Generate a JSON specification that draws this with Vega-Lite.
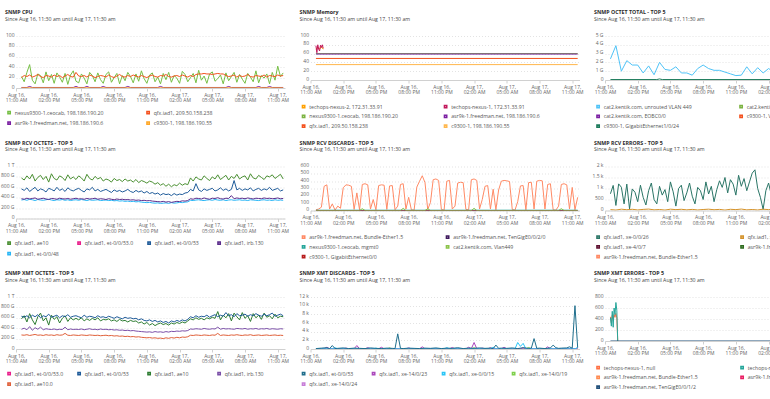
{
"$schema": "https://vega.github.io/schema/vega-lite/v6.json",
"background": "white",
"padding": {"left": 0, "top": 10, "right": 0, "bottom": 0},
"bounds": "flush",
"spacing": 130.5,
"resolve": {"scale": {"color": "independent", "x": "independent", "y": "independent"}, "legend": {"color": "independent"}},
"datasets": {
"names": [
{"k":"a","n":"nexus9300-1.ceocab, 198.186.190.20"},{"k":"b","n":"qfx.iad1, 209.50.158.238"},{"k":"p3","n":"asr9k-1.freedman.net, 198.186.190.6"},{"k":"p4","n":"c9300-1, 198.186.190.55"},
{"k":"m1","n":"techops-nexus-1, 172.31.33.91"},{"k":"m2","n":"techops-nexus-2, 172.31.33.91"},{"k":"m3","n":"nexus9300-1.ceocab, 198.186.190.20"},{"k":"m4","n":"asr9k-1.freedman.net, 198.186.190.6"},{"k":"m5","n":"qfx.iad1, 209.50.158.238"},{"k":"m6","n":"c9300-1, 198.186.190.55"},
{"k":"c","n":"cat2.kentik.com, unrouted VLAN 449"},{"k":"c2","n":"c9300-1, GigabitEthernet1/0/24"},
{"k":"d","n":"qfx.iad1, ae10"},{"k":"e","n":"qfx.iad1, et-0/0/53"},{"k":"f","n":"qfx.iad1, irb.130"},{"k":"g","n":"qfx.iad1, et-0/0/48"},
{"k":"h","n":"asr9k-1.freedman.net, Bundle-Ether1.5"},{"k":"r2","n":"asr9k-1.freedman.net, TenGigE0/0/2/0"},{"k":"r3","n":"nexus9300-1.ceocab, mgmt0"},{"k":"r4","n":"cat2.kentik.com, Vlan449"},{"k":"r5","n":"c9300-1, GigabitEthernet0/0"},
{"k":"k","n":"qfx.iad1, xe-0/0/26"},{"k":"j","n":"qfx.iad1, xe-0/0/27"},
{"k":"n","n":"qfx.iad1, et-0/0/53"},{"k":"o","n":"qfx.iad1, ae10"},{"k":"p","n":"qfx.iad1, irb.130"},{"k":"q","n":"qfx.iad1, ae10.0"},
{"k":"r","n":"qfx.iad1, et-0/0/53"},{"k":"s","n":"qfx.iad1, xe-14/0/23"},{"k":"u","n":"qfx.iad1, xe-0/0/15"},{"k":"v","n":"qfx.iad1, xe-14/0/19"},{"k":"w","n":"qfx.iad1, xe-14/0/24"},
{"k":"e1","n":"techops-nexus-1, null"},{"k":"e2","n":"techops-nexus-2, null"},{"k":"e5","n":"asr9k-1.freedman.net, TenGigE0/0/1/2"}
],
"d": [
{"t":"2023-08-16T11:30","m1":78,"m2":70,"e1":440,"e2":420},
{"t":"2023-08-16T11:35","m1":62,"e1":330,"e2":270},
{"t":"2023-08-16T11:40","m1":80,"m2":75,"e1":470,"e2":540},
{"t":"2023-08-16T11:45","m1":70,"e1":400,"e2":250},
{"t":"2023-08-16T11:50","m1":66,"m2":70,"e1":480,"e2":600},
{"t":"2023-08-16T11:55","m1":79,"e1":430,"e2":480},
{"t":"2023-08-16T12:00","m1":74,"m2":76,"e1":500,"e2":700},
{"t":"2023-08-16T12:05","m1":80,"e1":420,"e2":560},
{"t":"2023-08-16T12:10","m1":72,"m2":70,"e1":0,"e2":0},
{"t":"2023-08-16T11:30","a":22,"b":20,"c":2.4,"d":780,"e":570,"f":380,"g":355,"h":10,"k":760,"j":40,"n":630,"o":580,"p":380,"q":270,"r":100,"s":50,"u":30,"v":20,"w":30,"p3":1,"p4":0.3,"c2":0.05,"m3":60,"m4":59,"m5":49,"m6":35,"r2":0,"r3":4,"r4":0,"r5":0,"e5":0},
{"t":"2023-08-16T11:45","a":12,"b":24,"d":740,"e":540,"f":370,"g":365,"h":20,"k":1140,"n":610,"o":640,"p":400,"q":265},
{"t":"2023-08-16T12:00","a":30,"b":22,"c":3.9,"d":820,"e":590,"f":390,"g":350,"h":45,"k":230,"j":20,"n":640,"o":520,"p":370,"q":275,"r":200,"p3":1},
{"t":"2023-08-16T12:15","a":45,"b":25,"d":760,"e":520,"f":375,"g":370,"h":330,"k":1210,"n":600,"o":680,"p":430,"q":260,"s":50,"p3":3},
{"t":"2023-08-16T12:30","a":15,"b":21,"c":1.0,"d":850,"e":560,"f":385,"g":360,"h":350,"k":1060,"j":60,"n":650,"o":560,"p":360,"q":270,"r":300,"s":400,"p3":1},
{"t":"2023-08-16T12:45","a":8,"b":23,"d":720,"e":600,"f":395,"g":345,"h":20,"k":300,"n":620,"o":470,"p":410,"q":280,"r":80,"s":50},
{"t":"2023-08-16T13:00","a":27,"b":26,"c":2.2,"d":790,"e":530,"f":370,"g":365,"h":90,"k":1200,"j":35,"n":660,"o":620,"p":380,"q":265,"r":800,"u":30},
{"t":"2023-08-16T13:15","a":24,"b":22,"d":830,"e":570,"f":380,"g":355,"h":5,"k":75,"n":600,"o":690,"p":420,"q":270,"r":100,"u":300},
{"t":"2023-08-16T13:30","a":10,"b":20,"c":1.7,"d":750,"e":550,"f":390,"g":350,"h":60,"k":980,"j":55,"n":640,"o":540,"p":370,"q":260,"r":150,"u":30},
{"t":"2023-08-16T13:45","a":31,"b":24,"d":810,"e":510,"f":375,"g":360,"h":30,"k":830,"n":620,"o":600,"p":390,"q":275},
{"t":"2023-08-16T14:00","a":14,"b":23,"c":1.7,"d":700,"e":580,"f":365,"g":370,"h":310,"k":400,"j":25,"n":670,"o":460,"p":380,"q":265,"r":250,"w":30},
{"t":"2023-08-16T14:15","a":26,"b":21,"d":860,"e":560,"f":385,"g":355,"h":350,"k":1150,"n":610,"o":650,"p":375,"q":270,"w":250},
{"t":"2023-08-16T14:30","a":9,"b":25,"c":0.8,"d":770,"e":530,"f":380,"g":345,"h":345,"k":600,"j":50,"n":630,"o":570,"p":385,"q":260,"r":100,"w":30},
{"t":"2023-08-16T14:45","a":29,"b":22,"d":740,"e":600,"f":370,"g":360,"h":330,"k":250,"n":650,"o":620,"p":370,"q":275},
{"t":"2023-08-16T15:00","a":21,"b":24,"c":1.6,"d":820,"e":540,"f":390,"g":355,"h":15,"k":900,"j":65,"n":600,"o":500,"p":380,"q":265,"r":200,"s":50},
{"t":"2023-08-16T15:15","a":11,"b":20,"d":790,"e":570,"f":380,"g":365,"h":240,"k":1250,"n":640,"o":590,"p":375,"q":270,"s":800},
{"t":"2023-08-16T15:30","a":28,"b":23,"c":0.6,"d":730,"e":520,"f":375,"g":350,"h":10,"k":500,"j":30,"n":620,"o":640,"p":420,"q":300,"r":150,"s":50,"r4":0},
{"t":"2023-08-16T15:45","a":7,"b":26,"d":840,"e":590,"f":385,"g":360,"h":355,"k":300,"n":660,"o":530,"p":370,"q":265,"r4":25,"c2":0.05},
{"t":"2023-08-16T16:00","a":25,"b":22,"c":2.0,"d":760,"e":550,"f":370,"g":345,"h":365,"k":1100,"j":45,"n":610,"o":600,"p":385,"q":260,"r":100,"s":50,"r4":0,"c2":0.12},
{"t":"2023-08-16T16:15","a":33,"b":21,"d":800,"e":530,"f":380,"g":355,"h":350,"k":700,"n":630,"o":560,"p":375,"q":270,"s":300,"p3":1,"c2":0.05},
{"t":"2023-08-16T16:30","a":13,"b":30,"c":1.2,"d":750,"e":560,"f":390,"g":360,"h":20,"k":950,"j":20,"n":640,"o":590,"p":380,"q":265,"r":250,"s":50,"p3":3},
{"t":"2023-08-16T16:45","a":10,"b":23,"d":820,"e":580,"f":375,"g":350,"h":150,"k":400,"n":620,"o":560,"p":375,"q":260,"u":30,"p3":1},
{"t":"2023-08-16T17:00","a":27,"b":22,"c":1.1,"d":780,"e":540,"f":380,"g":365,"h":10,"k":1300,"j":60,"n":600,"o":600,"p":385,"q":270,"r":150,"u":200},
{"t":"2023-08-16T17:15","a":19,"b":24,"d":720,"e":510,"f":370,"g":355,"h":340,"k":850,"n":650,"o":540,"p":370,"q":265,"s":50,"u":30,"p3":1},
{"t":"2023-08-16T17:30","a":8,"b":21,"c":1.5,"d":850,"e":570,"f":385,"g":345,"h":350,"k":200,"j":40,"n":610,"o":580,"p":380,"q":260,"r":100,"s":400,"p3":3},
{"t":"2023-08-16T17:45","a":30,"b":25,"d":770,"e":550,"f":375,"g":360,"h":345,"k":1000,"n":630,"o":550,"p":390,"q":270,"s":50,"p3":1},
{"t":"2023-08-16T18:00","a":24,"b":23,"c":0.8,"d":740,"e":600,"f":380,"g":350,"h":15,"k":1150,"j":55,"n":620,"o":590,"p":375,"q":265,"r":200,"v":20},
{"t":"2023-08-16T18:15","a":12,"b":20,"d":810,"e":530,"f":390,"g":355,"h":335,"k":450,"n":600,"o":560,"p":380,"q":260,"v":250},
{"t":"2023-08-16T18:30","a":29,"b":22,"c":0.8,"d":760,"e":560,"f":370,"g":360,"h":340,"k":800,"j":30,"n":640,"o":600,"p":370,"q":265,"r":150,"v":20},
{"t":"2023-08-16T18:45","a":16,"b":24,"d":790,"e":520,"f":380,"g":345,"h":10,"k":1250,"n":610,"o":540,"p":385,"q":255,"r":100,"p3":1},
{"t":"2023-08-16T19:00","a":9,"b":23,"c":0.55,"d":720,"e":540,"f":375,"g":350,"h":60,"k":650,"j":50,"n":620,"o":570,"p":375,"q":260,"r":3500,"p3":3},
{"t":"2023-08-16T19:15","a":26,"b":21,"d":760,"e":560,"f":365,"g":355,"h":355,"k":300,"n":600,"o":560,"p":380,"q":265,"r":150,"p3":1,"r4":0},
{"t":"2023-08-16T19:30","a":31,"b":25,"c":1.3,"d":740,"e":530,"f":380,"g":345,"h":365,"k":1050,"j":25,"n":630,"o":580,"p":370,"q":255,"r":100,"r4":30},
{"t":"2023-08-16T19:45","a":11,"b":22,"d":700,"e":500,"f":370,"g":350,"h":20,"k":900,"n":610,"o":540,"p":375,"q":260,"w":30,"r4":0},
{"t":"2023-08-16T20:00","a":20,"b":20,"c":1.7,"d":770,"e":550,"f":360,"g":340,"h":180,"k":500,"j":45,"n":590,"o":560,"p":365,"q":250,"r":200,"w":300},
{"t":"2023-08-16T20:15","a":28,"b":23,"d":730,"e":520,"f":375,"g":345,"h":10,"k":1300,"n":620,"o":530,"p":370,"q":255,"w":30},
{"t":"2023-08-16T20:30","a":8,"b":26,"c":1.3,"d":750,"e":540,"f":365,"g":335,"h":5,"k":750,"j":60,"n":600,"o":570,"p":360,"q":245,"r":150},
{"t":"2023-08-16T20:45","a":24,"b":22,"d":710,"e":510,"f":370,"g":340,"h":320,"k":1100,"n":580,"o":540,"p":365,"q":250},
{"t":"2023-08-16T21:00","a":14,"b":21,"c":1.1,"d":760,"e":530,"f":360,"g":330,"h":400,"k":400,"j":35,"n":610,"o":550,"p":355,"q":240,"r":100,"s":50,"p3":1},
{"t":"2023-08-16T21:15","a":30,"b":24,"d":720,"e":560,"f":365,"g":335,"h":474,"k":950,"n":590,"o":520,"p":360,"q":245,"s":500,"p3":3},
{"t":"2023-08-16T21:30","a":22,"b":22,"c":1.1,"d":740,"e":520,"f":355,"g":325,"h":380,"k":1350,"j":50,"n":600,"o":550,"p":350,"q":235,"r":200,"s":50,"p3":1,"r4":0},
{"t":"2023-08-16T21:45","a":10,"b":25,"d":700,"e":500,"f":360,"g":330,"h":15,"k":1050,"n":580,"o":530,"p":355,"q":240,"r4":25},
{"t":"2023-08-16T22:00","a":27,"b":23,"c":0.9,"d":750,"e":540,"f":350,"g":320,"h":110,"k":1500,"j":20,"n":590,"o":540,"p":345,"q":230,"r":150,"r4":0},
{"t":"2023-08-16T22:15","a":13,"b":21,"d":690,"e":510,"f":355,"g":325,"h":420,"k":800,"n":560,"o":500,"p":340,"q":235},
{"t":"2023-08-16T22:30","a":33,"b":24,"c":0.7,"d":730,"e":530,"f":345,"g":315,"h":430,"k":1400,"j":55,"n":580,"o":520,"p":335,"q":225,"r":250},
{"t":"2023-08-16T22:45","a":18,"b":22,"d":710,"e":490,"f":350,"g":310,"h":410,"k":1200,"n":550,"o":480,"p":330,"q":220},
{"t":"2023-08-16T23:00","a":9,"b":20,"c":0.5,"d":680,"e":520,"f":340,"g":305,"h":15,"k":700,"j":40,"n":540,"o":510,"p":325,"q":215,"r":100},
{"t":"2023-08-16T23:15","a":25,"b":23,"d":720,"e":480,"f":345,"g":310,"h":5,"k":1600,"n":560,"o":460,"p":330,"q":220,"u":30},
{"t":"2023-08-16T23:30","a":29,"b":25,"c":0.55,"d":700,"e":500,"f":335,"g":300,"h":400,"k":1100,"j":65,"n":530,"o":490,"p":320,"q":210,"r":200,"u":300},
{"t":"2023-08-16T23:45","a":12,"b":22,"d":660,"e":470,"f":330,"g":295,"h":410,"k":1450,"n":550,"o":450,"p":335,"q":215,"s":50,"u":30},
{"t":"2023-08-17T00:00","a":21,"b":21,"c":1.5,"d":690,"e":490,"f":325,"g":300,"h":20,"k":900,"j":30,"n":520,"o":480,"p":325,"q":205,"r":150,"s":350,"p3":1},
{"t":"2023-08-17T00:15","a":8,"b":24,"d":640,"e":450,"f":320,"g":290,"h":60,"k":1300,"n":540,"o":500,"p":330,"q":210,"s":50,"p3":3},
{"t":"2023-08-17T00:30","a":28,"b":23,"c":0.7,"d":670,"e":480,"f":330,"g":295,"h":375,"k":1700,"j":45,"n":510,"o":470,"p":320,"q":200,"r":300,"p3":1},
{"t":"2023-08-17T00:45","a":16,"b":26,"d":620,"e":460,"f":315,"g":300,"h":385,"k":1850,"n":530,"o":490,"p":335,"q":215},
{"t":"2023-08-17T01:00","a":30,"b":22,"c":1.4,"d":660,"e":470,"f":325,"g":290,"h":380,"k":1000,"j":25,"n":500,"o":460,"p":325,"q":205,"r":100},
{"t":"2023-08-17T01:15","a":11,"b":21,"d":610,"e":440,"f":310,"g":305,"h":15,"k":600,"n":540,"o":500,"p":340,"q":220,"s":50},
{"t":"2023-08-17T01:30","a":24,"b":23,"c":0.8,"d":650,"e":480,"f":320,"g":295,"h":10,"k":50,"j":60,"n":520,"o":480,"p":335,"q":210,"r":200,"s":400},
{"t":"2023-08-17T01:45","a":19,"b":24,"d":630,"e":450,"f":330,"g":300,"h":420,"k":900,"n":550,"o":510,"p":345,"q":225,"s":80,"v":20,"r4":0},
{"t":"2023-08-17T02:00","a":9,"b":22,"c":1.3,"d":680,"e":470,"f":325,"g":310,"h":430,"k":1250,"j":40,"n":530,"o":490,"p":340,"q":215,"r":150,"s":1500,"v":300,"r4":30},
{"t":"2023-08-17T02:15","a":32,"b":25,"d":640,"e":460,"f":340,"g":305,"h":410,"k":700,"n":560,"o":520,"p":350,"q":230,"s":50,"v":20,"r4":0},
{"t":"2023-08-17T02:30","a":26,"b":23,"c":0.9,"d":670,"e":490,"f":335,"g":315,"h":20,"k":1100,"j":50,"n":540,"o":500,"p":345,"q":225,"r":250,"w":30},
{"t":"2023-08-17T02:45","a":12,"b":21,"d":650,"e":500,"f":345,"g":320,"h":150,"k":500,"n":570,"o":540,"p":355,"q":235,"w":250},
{"t":"2023-08-17T03:00","a":20,"b":24,"c":1.2,"d":780,"e":560,"f":380,"g":350,"h":330,"k":1300,"j":35,"n":620,"o":580,"p":385,"q":265,"r":150,"w":30},
{"t":"2023-08-17T03:15","a":28,"b":22,"d":720,"e":530,"f":370,"g":345,"h":340,"k":950,"n":600,"o":560,"p":380,"q":260,"s":50},
{"t":"2023-08-17T03:30","a":10,"b":26,"c":0.7,"d":800,"e":670,"f":390,"g":355,"h":20,"k":400,"j":55,"n":640,"o":600,"p":390,"q":270,"r":200,"s":300,"u":30},
{"t":"2023-08-17T03:45","a":34,"b":27,"d":760,"e":550,"f":385,"g":360,"h":290,"k":1200,"n":610,"o":570,"p":385,"q":265,"r":100,"s":50,"u":400},
{"t":"2023-08-17T04:00","a":15,"b":27,"c":1.6,"d":740,"e":520,"f":375,"g":350,"h":10,"k":800,"j":20,"n":630,"o":590,"p":380,"q":260,"r":900,"u":30},
{"t":"2023-08-17T04:15","a":23,"b":28,"d":820,"e":570,"f":395,"g":345,"h":280,"k":1400,"n":620,"o":560,"p":395,"q":270,"r":150},
{"t":"2023-08-17T04:30","a":9,"b":27,"c":1.0,"d":770,"e":540,"f":380,"g":355,"h":400,"k":600,"j":45,"n":650,"o":600,"p":385,"q":265,"r":200,"s":50},
{"t":"2023-08-17T04:45","a":27,"b":27,"d":730,"e":560,"f":370,"g":360,"h":410,"k":1000,"n":610,"o":580,"p":380,"q":260,"s":400},
{"t":"2023-08-17T05:00","a":31,"b":26,"c":1.3,"d":800,"e":580,"f":390,"g":350,"h":405,"k":1250,"j":60,"n":640,"o":610,"p":390,"q":270,"r":150,"s":50},
{"t":"2023-08-17T05:15","a":13,"b":27,"d":760,"e":530,"f":385,"g":365,"h":395,"k":500,"n":660,"o":590,"p":385,"q":265},
{"t":"2023-08-17T05:30","a":18,"b":28,"c":0.8,"d":840,"e":550,"f":400,"g":355,"h":15,"k":900,"j":30,"n":620,"o":720,"p":420,"q":300,"r":250},
{"t":"2023-08-17T05:45","a":25,"b":27,"d":750,"e":590,"f":380,"g":350,"h":5,"k":1300,"n":650,"o":560,"p":380,"q":260,"u":30},
{"t":"2023-08-17T06:00","a":8,"b":27,"c":1.1,"d":790,"e":540,"f":375,"g":360,"h":120,"k":700,"j":50,"n":630,"o":650,"p":395,"q":270,"r":100,"u":1500},
{"t":"2023-08-17T06:15","a":29,"b":24,"d":830,"e":570,"f":390,"g":345,"h":335,"k":1100,"n":700,"o":600,"p":385,"q":265,"s":50,"u":600,"p3":1},
{"t":"2023-08-17T06:30","a":14,"b":22,"c":1.5,"d":740,"e":530,"f":385,"g":355,"h":340,"k":450,"j":40,"n":640,"o":680,"p":390,"q":260,"r":300,"s":300,"u":1300,"p3":3},
{"t":"2023-08-17T06:45","a":22,"b":23,"d":810,"e":560,"f":440,"g":360,"h":10,"k":1200,"n":660,"o":540,"p":385,"q":270,"s":50,"u":30,"v":20,"p3":1},
{"t":"2023-08-17T07:00","a":30,"b":25,"c":0.9,"d":770,"e":730,"f":380,"g":350,"h":380,"k":850,"j":25,"n":620,"o":690,"p":380,"q":265,"r":150,"v":350},
{"t":"2023-08-17T07:15","a":11,"b":21,"d":850,"e":550,"f":395,"g":355,"h":385,"k":1350,"n":680,"o":620,"p":395,"q":275,"r":200,"v":20},
{"t":"2023-08-17T07:30","a":26,"b":24,"c":1.2,"d":760,"e":580,"f":385,"g":360,"h":20,"k":600,"j":55,"n":640,"o":560,"p":390,"q":265,"r":2400},
{"t":"2023-08-17T07:45","a":17,"b":22,"d":800,"e":540,"f":390,"g":350,"h":400,"k":1000,"n":650,"o":700,"p":385,"q":260,"r":150},
{"t":"2023-08-17T08:00","a":9,"b":23,"c":1.0,"d":820,"e":570,"f":380,"g":355,"h":410,"k":1250,"j":35,"n":670,"o":590,"p":395,"q":270,"r":200},
{"t":"2023-08-17T08:15","a":28,"b":26,"d":740,"e":550,"f":395,"g":345,"h":405,"k":750,"n":630,"o":640,"p":380,"q":265},
{"t":"2023-08-17T08:30","a":21,"b":22,"c":1.4,"d":860,"e":590,"f":385,"g":360,"h":20,"k":400,"j":60,"n":660,"o":530,"p":390,"q":275,"r":100,"s":50},
{"t":"2023-08-17T08:45","a":12,"b":21,"d":780,"e":530,"f":375,"g":355,"h":355,"k":1150,"n":640,"o":680,"p":385,"q":260,"s":500},
{"t":"2023-08-17T09:00","a":33,"b":24,"c":0.8,"d":760,"e":560,"f":390,"g":350,"h":365,"k":900,"j":45,"n":680,"o":600,"p":395,"q":265,"r":250,"s":50,"p3":1},
{"t":"2023-08-17T09:15","a":10,"b":23,"d":830,"e":580,"f":385,"g":345,"h":10,"k":1300,"n":650,"o":650,"p":380,"q":270,"r":900,"p3":3},
{"t":"2023-08-17T09:30","a":24,"b":22,"c":1.3,"d":790,"e":540,"f":380,"g":355,"h":5,"k":550,"j":30,"n":630,"o":570,"p":390,"q":260,"r":300,"p3":1},
{"t":"2023-08-17T09:45","a":19,"b":25,"d":750,"e":570,"f":395,"g":360,"h":60,"k":1000,"n":670,"o":690,"p":385,"q":265,"r":150,"r4":0},
{"t":"2023-08-17T10:00","a":27,"b":21,"c":1.1,"d":820,"e":550,"f":385,"g":350,"h":355,"k":1200,"j":50,"n":640,"o":610,"p":395,"q":270,"r":200,"p3":1,"r4":25},
{"t":"2023-08-17T10:15","a":8,"b":24,"d":800,"e":600,"f":390,"g":355,"h":365,"k":700,"n":660,"o":640,"p":380,"q":260,"p3":3,"r4":0},
{"t":"2023-08-17T10:30","a":30,"b":23,"c":1.6,"d":840,"e":540,"f":380,"g":345,"h":350,"k":1100,"j":40,"n":690,"o":580,"p":390,"q":265,"r":250,"p3":1},
{"t":"2023-08-17T10:45","a":15,"b":22,"d":770,"e":560,"f":385,"g":360,"h":20,"k":850,"n":630,"o":670,"p":385,"q":270,"r":500},
{"t":"2023-08-17T11:00","a":42,"b":25,"c":0.9,"d":810,"e":580,"f":395,"g":350,"h":315,"k":1300,"j":20,"n":650,"o":600,"p":380,"q":260,"r":200},
{"t":"2023-08-17T11:15","a":22,"b":23,"d":850,"e":530,"f":380,"g":355,"h":10,"k":600,"n":670,"o":630,"p":390,"q":265,"r":10000,"u":30},
{"t":"2023-08-17T11:30","a":29,"b":24,"c":1.2,"d":760,"e":550,"f":385,"g":350,"h":180,"k":950,"j":45,"n":640,"o":620,"p":385,"q":260,"r":300,"s":50,"u":400,"v":20,"w":30,"p3":1,"p4":0.3,"c2":0.05,"m3":60,"m4":59,"m5":49,"m6":35,"r2":0,"r3":4,"r4":0,"r5":0,"e5":0}
]
},
"vconcat": [
{"hconcat": [
{"title": {"text": "SNMP CPU", "subtitle": "Since Aug 16, 11:30 am until Aug 17, 11:30 am"},
 "width": 269, "height": 52, "data": {"name": "d"},
 "transform": [{"fold": ["a","b","p3","p4"], "as": ["k","v"]}, {"filter": "isValid(datum.v)"}, {"lookup": "k", "from": {"data": {"name": "names"}, "key": "k", "fields": ["n"]}}],
 "mark": {"type": "line", "clip": true, "strokeWidth": 1},
 "encoding": {
  "x": {"field": "t", "type": "temporal", "scale": {"domain": [{"year":2023,"month":8,"date":16,"hours":11},{"year":2023,"month":8,"date":17,"hours":11,"minutes":40}]}, "axis": {"title": null, "values": [{"year":2023,"month":8,"date":16,"hours":11},{"year":2023,"month":8,"date":16,"hours":14},{"year":2023,"month":8,"date":16,"hours":17},{"year":2023,"month":8,"date":16,"hours":20},{"year":2023,"month":8,"date":16,"hours":23},{"year":2023,"month":8,"date":17,"hours":2},{"year":2023,"month":8,"date":17,"hours":5},{"year":2023,"month":8,"date":17,"hours":8},{"year":2023,"month":8,"date":17,"hours":11}], "labelExpr": "[timeFormat(datum.value, '%b %d,'), timeFormat(datum.value, '%I:%M %p')]"}},
  "y": {"field": "v", "type": "quantitative", "scale": {"domain": [0,100]}, "axis": {"title": null, "values": [0,20,40,60,80,100]}},
  "color": {"field": "n", "type": "nominal", "scale": {"domain": ["nexus9300-1.ceocab, 198.186.190.20","qfx.iad1, 209.50.158.238","asr9k-1.freedman.net, 198.186.190.6","c9300-1, 198.186.190.55"], "range": ["#76bf45","#f4511e","#7b1fa2","#ffa726"]}, "legend": {"title": null, "orient": "none", "direction": "horizontal", "columns": 2, "legendX": -9.5, "legendY": 74, "columnPadding": 40, "rowPadding": 1.5}}
 }},
{"title": {"text": "SNMP Memory", "subtitle": "Since Aug 16, 11:30 am until Aug 17, 11:30 am"},
 "width": 269, "height": 44, "data": {"name": "d"},
 "transform": [{"fold": ["m2","m1","m3","m4","m5","m6"], "as": ["k","v"]}, {"filter": "isValid(datum.v)"}, {"lookup": "k", "from": {"data": {"name": "names"}, "key": "k", "fields": ["n"]}}],
 "mark": {"type": "line", "clip": true, "strokeWidth": 1},
 "encoding": {
  "x": {"field": "t", "type": "temporal", "scale": {"domain": [{"year":2023,"month":8,"date":16,"hours":11},{"year":2023,"month":8,"date":17,"hours":11,"minutes":40}]}, "axis": {"title": null, "values": [{"year":2023,"month":8,"date":16,"hours":11},{"year":2023,"month":8,"date":16,"hours":14},{"year":2023,"month":8,"date":16,"hours":17},{"year":2023,"month":8,"date":16,"hours":20},{"year":2023,"month":8,"date":16,"hours":23},{"year":2023,"month":8,"date":17,"hours":2},{"year":2023,"month":8,"date":17,"hours":5},{"year":2023,"month":8,"date":17,"hours":8},{"year":2023,"month":8,"date":17,"hours":11}], "labelExpr": "[timeFormat(datum.value, '%b %d,'), timeFormat(datum.value, '%I:%M %p')]"}},
  "y": {"field": "v", "type": "quantitative", "scale": {"domain": [0,100]}, "axis": {"title": null, "values": [0,20,40,60,80,100]}},
  "color": {"field": "n", "type": "nominal", "scale": {"domain": ["techops-nexus-2, 172.31.33.91","techops-nexus-1, 172.31.33.91","nexus9300-1.ceocab, 198.186.190.20","asr9k-1.freedman.net, 198.186.190.6","qfx.iad1, 209.50.158.238","c9300-1, 198.186.190.55"], "range": ["#ffa000","#c2185b","#7cb342","#7b1fa2","#f4511e","#ffb74d"]}, "legend": {"title": null, "orient": "none", "direction": "horizontal", "columns": 2, "legendX": -9.5, "legendY": 68, "columnPadding": 43, "rowPadding": 0.8}}
 }},
{"title": {"text": "SNMP OCTET TOTAL - TOP 5", "subtitle": "Since Aug 16, 11:30 am until Aug 17, 11:30 am"},
 "width": 269, "height": 44, "data": {"name": "d"},
 "transform": [{"fold": ["c2","c"], "as": ["k","v"]}, {"filter": "isValid(datum.v)"}, {"lookup": "k", "from": {"data": {"name": "names"}, "key": "k", "fields": ["n"]}}],
 "mark": {"type": "line", "clip": true, "strokeWidth": 1},
 "encoding": {
  "x": {"field": "t", "type": "temporal", "scale": {"domain": [{"year":2023,"month":8,"date":16,"hours":11},{"year":2023,"month":8,"date":17,"hours":11,"minutes":40}]}, "axis": {"title": null, "values": [{"year":2023,"month":8,"date":16,"hours":11},{"year":2023,"month":8,"date":16,"hours":14},{"year":2023,"month":8,"date":16,"hours":17},{"year":2023,"month":8,"date":16,"hours":20},{"year":2023,"month":8,"date":16,"hours":23},{"year":2023,"month":8,"date":17,"hours":2},{"year":2023,"month":8,"date":17,"hours":5},{"year":2023,"month":8,"date":17,"hours":8},{"year":2023,"month":8,"date":17,"hours":11}], "labelExpr": "[timeFormat(datum.value, '%b %d,'), timeFormat(datum.value, '%I:%M %p')]"}},
  "y": {"field": "v", "type": "quantitative", "scale": {"domain": [0,5]}, "axis": {"title": null, "values": [0,1,2,3,4,5], "labelExpr": "datum.value == 0 ? '0' : datum.value + ' G'"}},
  "color": {"field": "n", "type": "nominal", "scale": {"domain": ["cat2.kentik.com, unrouted VLAN 449","cat2.kentik.com, Vlan449","cat2.kentik.com, EOBC0/0","c9300-1, Vlan1","c9300-1, GigabitEthernet1/0/24"], "range": ["#4fc3f7","#7cb342","#7b1fa2","#f4511e","#1b7a5a"]}, "legend": {"title": null, "orient": "none", "direction": "horizontal", "columns": 2, "legendX": -9.5, "legendY": 68, "columnPadding": 44, "rowPadding": 0.8}}
 }}
], "spacing": 25.5, "bounds": "flush", "resolve": {"scale": {"color": "independent", "x": "independent", "y": "independent"}, "legend": {"color": "independent"}}},
{"hconcat": [
{"title": {"text": "SNMP RCV OCTETS - TOP 5", "subtitle": "Since Aug 16, 11:30 am until Aug 17, 11:30 am"},
 "width": 269, "height": 52, "data": {"name": "d"},
 "transform": [{"fold": ["g","f","e","d"], "as": ["k","v"]}, {"filter": "isValid(datum.v)"}, {"lookup": "k", "from": {"data": {"name": "names"}, "key": "k", "fields": ["n"]}}],
 "mark": {"type": "line", "clip": true, "strokeWidth": 1},
 "encoding": {
  "x": {"field": "t", "type": "temporal", "scale": {"domain": [{"year":2023,"month":8,"date":16,"hours":11},{"year":2023,"month":8,"date":17,"hours":11,"minutes":40}]}, "axis": {"title": null, "values": [{"year":2023,"month":8,"date":16,"hours":11},{"year":2023,"month":8,"date":16,"hours":14},{"year":2023,"month":8,"date":16,"hours":17},{"year":2023,"month":8,"date":16,"hours":20},{"year":2023,"month":8,"date":16,"hours":23},{"year":2023,"month":8,"date":17,"hours":2},{"year":2023,"month":8,"date":17,"hours":5},{"year":2023,"month":8,"date":17,"hours":8},{"year":2023,"month":8,"date":17,"hours":11}], "labelExpr": "[timeFormat(datum.value, '%b %d,'), timeFormat(datum.value, '%I:%M %p')]"}},
  "y": {"field": "v", "type": "quantitative", "scale": {"domain": [0,1000]}, "axis": {"title": null, "values": [0,200,400,600,800,1000], "labelExpr": "datum.value == 0 ? '0' : datum.value >= 1000 ? (datum.value/1000) + ' T' : datum.value + ' G'"}},
  "color": {"field": "n", "type": "nominal", "scale": {"domain": ["qfx.iad1, ae10","qfx.iad1, et-0/0/53.0","qfx.iad1, et-0/0/53","qfx.iad1, irb.130","qfx.iad1, et-0/0/48"], "range": ["#4a8f32","#e91e8c","#1f5b99","#5b2c8c","#29b6f6"]}, "legend": {"title": null, "orient": "none", "direction": "horizontal", "columns": 4, "legendX": -9.5, "legendY": 74, "columnPadding": 11, "rowPadding": 1.5}}
 }},
{"title": {"text": "SNMP RCV DISCARDS - TOP 5", "subtitle": "Since Aug 16, 11:30 am until Aug 17, 11:30 am"},
 "width": 269, "height": 44, "data": {"name": "d"},
 "transform": [{"fold": ["h","r2","r3","r5","r4"], "as": ["k","v"]}, {"filter": "isValid(datum.v)"}, {"lookup": "k", "from": {"data": {"name": "names"}, "key": "k", "fields": ["n"]}}],
 "mark": {"type": "line", "clip": true, "strokeWidth": 1},
 "encoding": {
  "x": {"field": "t", "type": "temporal", "scale": {"domain": [{"year":2023,"month":8,"date":16,"hours":11},{"year":2023,"month":8,"date":17,"hours":11,"minutes":40}]}, "axis": {"title": null, "values": [{"year":2023,"month":8,"date":16,"hours":11},{"year":2023,"month":8,"date":16,"hours":14},{"year":2023,"month":8,"date":16,"hours":17},{"year":2023,"month":8,"date":16,"hours":20},{"year":2023,"month":8,"date":16,"hours":23},{"year":2023,"month":8,"date":17,"hours":2},{"year":2023,"month":8,"date":17,"hours":5},{"year":2023,"month":8,"date":17,"hours":8},{"year":2023,"month":8,"date":17,"hours":11}], "labelExpr": "[timeFormat(datum.value, '%b %d,'), timeFormat(datum.value, '%I:%M %p')]"}},
  "y": {"field": "v", "type": "quantitative", "scale": {"domain": [0,600]}, "axis": {"title": null, "values": [0,100,200,300,400,500,600]}},
  "color": {"field": "n", "type": "nominal", "scale": {"domain": ["asr9k-1.freedman.net, Bundle-Ether1.5","asr9k-1.freedman.net, TenGigE0/0/2/0","nexus9300-1.ceocab, mgmt0","cat2.kentik.com, Vlan449","c9300-1, GigabitEthernet0/0"], "range": ["#ff8a65","#3f1a5e","#26a69a","#8bc34a","#b71c1c"]}, "legend": {"title": null, "orient": "none", "direction": "horizontal", "columns": 2, "legendX": -9.5, "legendY": 68, "columnPadding": 39, "rowPadding": 0.8}}
 }},
{"title": {"text": "SNMP RCV ERRORS - TOP 5", "subtitle": "Since Aug 16, 11:30 am until Aug 17, 11:30 am"},
 "width": 269, "height": 44, "data": {"name": "d"},
 "transform": [{"fold": ["k","j"], "as": ["k","v"]}, {"filter": "isValid(datum.v)"}, {"lookup": "k", "from": {"data": {"name": "names"}, "key": "k", "fields": ["n"]}}],
 "mark": {"type": "line", "clip": true, "strokeWidth": 1},
 "encoding": {
  "x": {"field": "t", "type": "temporal", "scale": {"domain": [{"year":2023,"month":8,"date":16,"hours":11},{"year":2023,"month":8,"date":17,"hours":11,"minutes":40}]}, "axis": {"title": null, "values": [{"year":2023,"month":8,"date":16,"hours":11},{"year":2023,"month":8,"date":16,"hours":14},{"year":2023,"month":8,"date":16,"hours":17},{"year":2023,"month":8,"date":16,"hours":20},{"year":2023,"month":8,"date":16,"hours":23},{"year":2023,"month":8,"date":17,"hours":2},{"year":2023,"month":8,"date":17,"hours":5},{"year":2023,"month":8,"date":17,"hours":8},{"year":2023,"month":8,"date":17,"hours":11}], "labelExpr": "[timeFormat(datum.value, '%b %d,'), timeFormat(datum.value, '%I:%M %p')]"}},
  "y": {"field": "v", "type": "quantitative", "scale": {"domain": [0,2000]}, "axis": {"title": null, "values": [0,500,1000,1500,2000], "labelExpr": "datum.value >= 1000 ? (datum.value/1000) + ' k' : datum.value + ''"}},
  "color": {"field": "n", "type": "nominal", "scale": {"domain": ["qfx.iad1, xe-0/0/26","qfx.iad1, xe-0/0/27","qfx.iad1, xe-4/0/7","asr9k-1.freedman.net, TenGigE0/0/2/0","asr9k-1.freedman.net, Bundle-Ether1.5"], "range": ["#2a7566","#d4922a","#5d0f2f","#2e6b1e","#ff8a65"]}, "legend": {"title": null, "orient": "none", "direction": "horizontal", "columns": 2, "legendX": -9.5, "legendY": 68, "columnPadding": 39, "rowPadding": 0.8}}
 }}
], "spacing": 25.5, "bounds": "flush", "resolve": {"scale": {"color": "independent", "x": "independent", "y": "independent"}, "legend": {"color": "independent"}}},
{"hconcat": [
{"title": {"text": "SNMP XMT OCTETS - TOP 5", "subtitle": "Since Aug 16, 11:30 am until Aug 17, 11:30 am"},
 "width": 269, "height": 52, "data": {"name": "d"},
 "transform": [{"fold": ["q","p","o","n"], "as": ["k","v"]}, {"filter": "isValid(datum.v)"}, {"lookup": "k", "from": {"data": {"name": "names"}, "key": "k", "fields": ["n"]}}],
 "mark": {"type": "line", "clip": true, "strokeWidth": 1},
 "encoding": {
  "x": {"field": "t", "type": "temporal", "scale": {"domain": [{"year":2023,"month":8,"date":16,"hours":11},{"year":2023,"month":8,"date":17,"hours":11,"minutes":40}]}, "axis": {"title": null, "values": [{"year":2023,"month":8,"date":16,"hours":11},{"year":2023,"month":8,"date":16,"hours":14},{"year":2023,"month":8,"date":16,"hours":17},{"year":2023,"month":8,"date":16,"hours":20},{"year":2023,"month":8,"date":16,"hours":23},{"year":2023,"month":8,"date":17,"hours":2},{"year":2023,"month":8,"date":17,"hours":5},{"year":2023,"month":8,"date":17,"hours":8},{"year":2023,"month":8,"date":17,"hours":11}], "labelExpr": "[timeFormat(datum.value, '%b %d,'), timeFormat(datum.value, '%I:%M %p')]"}},
  "y": {"field": "v", "type": "quantitative", "scale": {"domain": [0,1000]}, "axis": {"title": null, "values": [0,200,400,600,800,1000], "labelExpr": "datum.value == 0 ? '0' : datum.value >= 1000 ? (datum.value/1000) + ' T' : datum.value + ' G'"}},
  "color": {"field": "n", "type": "nominal", "scale": {"domain": ["qfx.iad1, et-0/0/53.0","qfx.iad1, et-0/0/53","qfx.iad1, ae10","qfx.iad1, irb.130","qfx.iad1, ae10.0"], "range": ["#e91e8c","#1f5b99","#2e7d32","#7b4fa8","#e0603a"]}, "legend": {"title": null, "orient": "none", "direction": "horizontal", "columns": 4, "legendX": -9.5, "legendY": 74, "columnPadding": 11, "rowPadding": 1.5}}
 }},
{"title": {"text": "SNMP XMT DISCARDS - TOP 5", "subtitle": "Since Aug 16, 11:30 am until Aug 17, 11:30 am"},
 "width": 269, "height": 52, "data": {"name": "d"},
 "transform": [{"fold": ["v","w","s","u","r"], "as": ["k","v"]}, {"filter": "isValid(datum.v)"}, {"lookup": "k", "from": {"data": {"name": "names"}, "key": "k", "fields": ["n"]}}],
 "mark": {"type": "line", "clip": true, "strokeWidth": 1},
 "encoding": {
  "x": {"field": "t", "type": "temporal", "scale": {"domain": [{"year":2023,"month":8,"date":16,"hours":11},{"year":2023,"month":8,"date":17,"hours":11,"minutes":40}]}, "axis": {"title": null, "values": [{"year":2023,"month":8,"date":16,"hours":11},{"year":2023,"month":8,"date":16,"hours":14},{"year":2023,"month":8,"date":16,"hours":17},{"year":2023,"month":8,"date":16,"hours":20},{"year":2023,"month":8,"date":16,"hours":23},{"year":2023,"month":8,"date":17,"hours":2},{"year":2023,"month":8,"date":17,"hours":5},{"year":2023,"month":8,"date":17,"hours":8},{"year":2023,"month":8,"date":17,"hours":11}], "labelExpr": "[timeFormat(datum.value, '%b %d,'), timeFormat(datum.value, '%I:%M %p')]"}},
  "y": {"field": "v", "type": "quantitative", "scale": {"domain": [0,12000]}, "axis": {"title": null, "values": [0,2000,4000,6000,8000,10000,12000], "labelExpr": "datum.value == 0 ? '0' : (datum.value/1000) + ' k'"}},
  "color": {"field": "n", "type": "nominal", "scale": {"domain": ["qfx.iad1, et-0/0/53","qfx.iad1, xe-14/0/23","qfx.iad1, xe-0/0/15","qfx.iad1, xe-14/0/19","qfx.iad1, xe-14/0/24"], "range": ["#1f6e8c","#ab47bc","#29c5f6","#7ed04b","#c77dd8"]}, "legend": {"title": null, "orient": "none", "direction": "horizontal", "columns": 4, "legendX": -9.5, "legendY": 74, "columnPadding": 11, "rowPadding": 1.5}}
 }},
{"title": {"text": "SNMP XMT ERRORS - TOP 5", "subtitle": "Since Aug 16, 11:30 am until Aug 17, 11:30 am"},
 "width": 269, "height": 44, "data": {"name": "d"},
 "transform": [{"fold": ["e5","e1","e2"], "as": ["k","v"]}, {"filter": "isValid(datum.v)"}, {"lookup": "k", "from": {"data": {"name": "names"}, "key": "k", "fields": ["n"]}}],
 "mark": {"type": "line", "clip": true, "strokeWidth": 1},
 "encoding": {
  "x": {"field": "t", "type": "temporal", "scale": {"domain": [{"year":2023,"month":8,"date":16,"hours":11},{"year":2023,"month":8,"date":17,"hours":11,"minutes":40}]}, "axis": {"title": null, "values": [{"year":2023,"month":8,"date":16,"hours":11},{"year":2023,"month":8,"date":16,"hours":14},{"year":2023,"month":8,"date":16,"hours":17},{"year":2023,"month":8,"date":16,"hours":20},{"year":2023,"month":8,"date":16,"hours":23},{"year":2023,"month":8,"date":17,"hours":2},{"year":2023,"month":8,"date":17,"hours":5},{"year":2023,"month":8,"date":17,"hours":8},{"year":2023,"month":8,"date":17,"hours":11}], "labelExpr": "[timeFormat(datum.value, '%b %d,'), timeFormat(datum.value, '%I:%M %p')]"}},
  "y": {"field": "v", "type": "quantitative", "scale": {"domain": [0,800]}, "axis": {"title": null, "values": [0,200,400,600,800]}},
  "color": {"field": "n", "type": "nominal", "scale": {"domain": ["techops-nexus-1, null","techops-nexus-2, null","asr9k-1.freedman.net, Bundle-Ether1.5","asr9k-1.freedman.net, TenGigE0/0/2/0","asr9k-1.freedman.net, TenGigE0/0/1/2"], "range": ["#ff7043","#26a69a","#ff8a50","#e91e63","#1f4e79"]}, "legend": {"title": null, "orient": "none", "direction": "horizontal", "columns": 2, "legendX": -9.5, "legendY": 68, "columnPadding": 39, "rowPadding": 0.8}}
 }}
], "spacing": 25.5, "bounds": "flush", "resolve": {"scale": {"color": "independent", "x": "independent", "y": "independent"}, "legend": {"color": "independent"}}}
],
"config": {
 "font": "Open Sans",
 "view": {"stroke": null},
 "title": {"anchor": "start", "frame": "group", "fontSize": 5.3, "fontWeight": "bold", "color": "#2b2b2b", "subtitleFontSize": 5.2, "subtitleColor": "#444444", "subtitlePadding": 1.5, "offset": 10, "dx": -11},
 "axisX": {"grid": false, "domainColor": "#d0d0d0", "tickColor": "#d0d0d0", "tickSize": 3, "labelPadding": 1, "labelFontSize": 5, "labelColor": "#666666", "labelLineHeight": 5.5, "labelFlush": false, "labelOverlap": false, "labelBaseline": "top"},
 "axisY": {"grid": true, "gridColor": "#dcdcdc", "gridDash": [1,2], "gridWidth": 0.8, "domain": false, "ticks": false, "labelPadding": 2, "labelFontSize": 5, "labelColor": "#666666", "labelBaseline": "alphabetic"},
 "legend": {"symbolType": "square", "symbolSize": 5, "symbolStrokeWidth": 1.6, "labelFontSize": 5.2, "labelColor": "#555555", "labelOffset": 3, "gridAlign": "all", "labelLimit": 300, "padding": 0}
}
}
